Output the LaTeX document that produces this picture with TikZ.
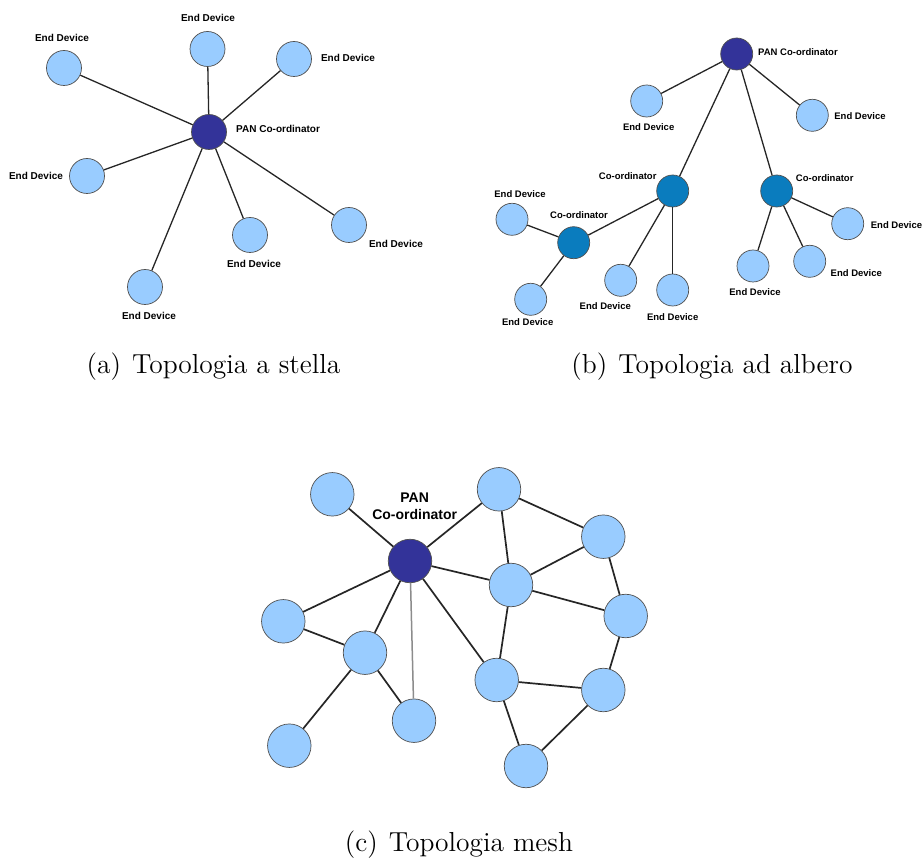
\documentclass[tikz,border=0pt]{standalone}
\usepackage{fontspec}
\setsansfont{Liberation Sans}
\newfontfamily\capfont{lmroman12-regular.otf}
\definecolor{devfill}{HTML}{99CCFF}
\definecolor{panfill}{HTML}{333399}
\definecolor{crdfill}{HTML}{0A7CBE}
\definecolor{ring}{HTML}{505050}
\tikzset{
  dev/.style={circle, inner sep=0pt, fill=devfill, draw=ring, line width=0.7pt},
  pannode/.style={dev, fill=panfill},
  crdnode/.style={dev, fill=crdfill},
  link/.style={line width=1.3pt, black!85},
  meshlink/.style={line width=1.7pt, black!85},
  lbl/.style={font=\sffamily\bfseries\fontsize{10}{12}\selectfont, inner sep=0pt},
  lbltree/.style={font=\sffamily\bfseries\fontsize{9.5}{11}\selectfont, inner sep=0pt},
  capt/.style={font=\capfont\fontsize{27.5}{32}\selectfont, inner sep=0pt}
}
\begin{document}
\begin{tikzpicture}[x=1pt,y=-1pt]
\useasboundingbox (0,0) rectangle (922,858);

% ---------- star ----------
\begin{scope}[every node/.append style={minimum size=35pt}]
\node[pannode] (sp) at (209,132) {};
\node[dev] (s1) at (64,68) {};
\node[dev] (s2) at (207.5,49) {};
\node[dev] (s3) at (294,59) {};
\node[dev] (s4) at (87,176) {};
\node[dev] (s5) at (250,235) {};
\node[dev] (s6) at (349,225) {};
\node[dev] (s7) at (145,287) {};
\end{scope}
\foreach \n in {s1,s2,s3,s4,s5,s6,s7} \draw[link] (sp) -- (\n);
\node[lbl, anchor=west] (spl) at (236,129) {PAN Co-ordinator};
\node[lbl] (s1l) at (62,38) {End Device};
\node[lbl] (s2l) at (208,18) {End Device};
\node[lbl] (s3l) at (348,58) {End Device};
\node[lbl] (s4l) at (36,176) {End Device};
\node[lbl] (s5l) at (254,264) {End Device};
\node[lbl] (s6l) at (396,244) {End Device};
\node[lbl] (s7l) at (149,316) {End Device};
\node[capt] (capa) at (213.5,367) {(a)\hspace{0.4em}Topologia a stella};

% ---------- tree ----------
\begin{scope}[every node/.append style={minimum size=32pt}]
\node[pannode] (tp) at (736.7,54) {};
\node[dev] (ta) at (646.7,101) {};
\node[dev] (tb) at (812.3,115.3) {};
\node[crdnode] (c1) at (672.7,191) {};
\node[crdnode] (c2) at (776.7,191) {};
\node[crdnode] (c3) at (573.7,242.7) {};
\node[dev] (tc) at (512,219.3) {};
\node[dev] (td) at (530.7,299.3) {};
\node[dev] (te) at (620.7,280.3) {};
\node[dev] (tf) at (672.7,290) {};
\node[dev] (tg) at (753,266) {};
\node[dev] (th) at (809.7,261.3) {};
\node[dev] (ti) at (847.7,223.7) {};
\end{scope}
\foreach \a/\b in {tp/ta,tp/tb,tp/c1,tp/c2,c1/c3,c1/te,c1/tf,c3/tc,c3/td,c2/tg,c2/th,c2/ti}
  \draw[link] (\a) -- (\b);
\node[lbltree, anchor=west] (tpl) at (758,52.5) {PAN Co-ordinator};
\node[lbltree] (tal) at (648.7,127) {End Device};
\node[lbltree] (tbl) at (860,116) {End Device};
\node[lbltree] (c1l) at (627.7,176) {Co-ordinator};
\node[lbltree] (c2l) at (824.7,177.7) {Co-ordinator};
\node[lbltree] (c3l) at (579,215.3) {Co-ordinator};
\node[lbltree] (tcl) at (520,193.7) {End Device};
\node[lbltree] (tdl) at (527.7,322) {End Device};
\node[lbltree] (tel) at (605.3,306) {End Device};
\node[lbltree] (tfl) at (672.7,316.7) {End Device};
\node[lbltree] (tgl) at (755,291.7) {End Device};
\node[lbltree] (thl) at (856.3,272.7) {End Device};
\node[lbltree] (til) at (896.5,225) {End Device};
\node[capt] (capb) at (712,367) {(b)\hspace{0.4em}Topologia ad albero};

% ---------- mesh ----------
\begin{scope}[every node/.append style={minimum size=43.5pt}]
\node[pannode] (mp) at (410,561) {};
\node[dev] (m1) at (332.3,494.3) {};
\node[dev] (m2) at (499,489.3) {};
\node[dev] (m3) at (603.3,536.7) {};
\node[dev] (m4) at (511,585) {};
\node[dev] (m5) at (625.7,616) {};
\node[dev] (m6) at (283.3,621.3) {};
\node[dev] (m7) at (365,652.7) {};
\node[dev] (m8) at (496.7,680) {};
\node[dev] (m9) at (603.3,690) {};
\node[dev] (m10) at (414,720.7) {};
\node[dev] (m11) at (289.3,745.7) {};
\node[dev] (m12) at (526,766) {};
\end{scope}
\foreach \a/\b in {mp/m1,mp/m2,mp/m4,mp/m6,mp/m7,mp/m8,m2/m3,m2/m4,m3/m4,m3/m5,m4/m5,m4/m8,m5/m9,m8/m9,m8/m12,m9/m12,m6/m7,m7/m10,m7/m11}
  \draw[meshlink] (\a) -- (\b);
\draw[line width=1.5pt, black!45] (mp) -- (m10);
\node[font=\sffamily\bfseries\fontsize{14}{17.5}\selectfont, align=center, inner sep=0pt] (mpl) at (414.7,506.5) {PAN\\Co-ordinator};
\node[capt] (capc) at (459,845) {(c)\hspace{0.4em}Topologia mesh};
\end{tikzpicture}
\end{document}
